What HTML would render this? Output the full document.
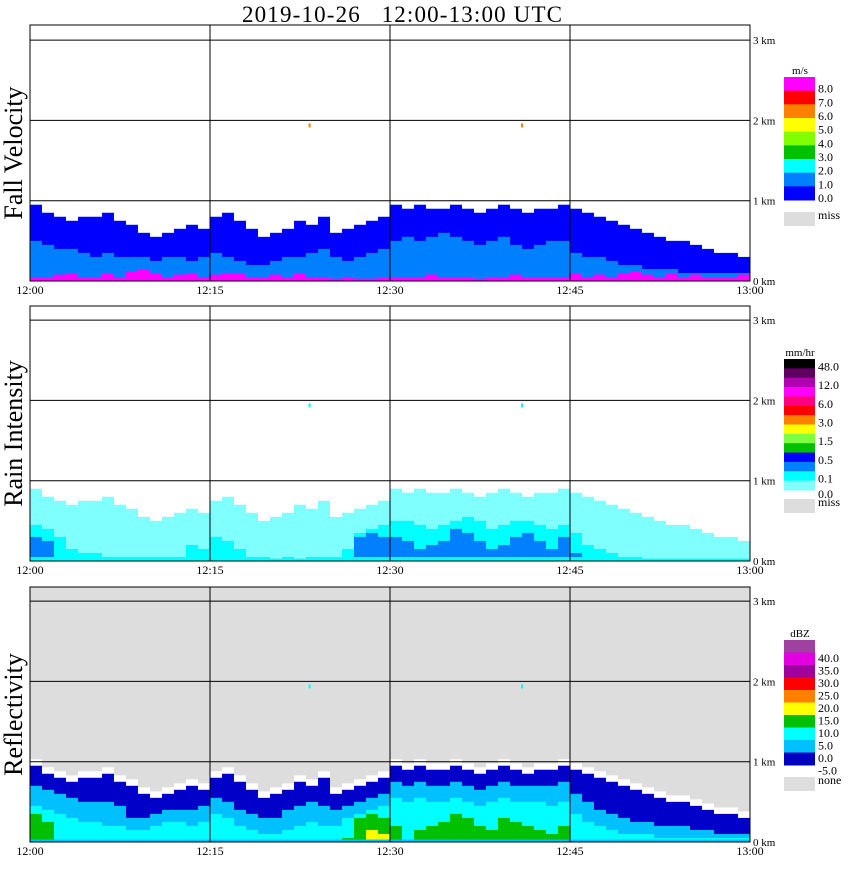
<!DOCTYPE html>
<html><head><meta charset="utf-8"><style>
body{margin:0;background:#fff;width:850px;height:868px;overflow:hidden}
svg text{font-family:"Liberation Serif",serif}
</style></head><body>
<svg id="c" width="850" height="868" xmlns="http://www.w3.org/2000/svg">
<text x="242" y="22" font-size="23" textLength="320" lengthAdjust="spacing" style="white-space:pre">2019-10-26   12:00-13:00 UTC</text>
</svg>
<script>
// minute-by-minute echo top heights (km), 60 minutes
const minutes = Array.from({length:60},(_, i)=>i);
const echoTop = [0.95,0.85,0.8,0.75,0.8,0.8,0.85,0.75,0.7,0.6,0.55,0.6,0.65,0.7,0.65,
 0.8,0.85,0.75,0.65,0.55,0.6,0.65,0.75,0.7,0.8,0.6,0.65,0.7,0.75,0.8,
 0.95,0.9,0.95,0.9,0.9,0.95,0.9,0.85,0.9,0.95,0.9,0.85,0.9,0.9,0.95,
 0.9,0.85,0.8,0.75,0.7,0.65,0.6,0.55,0.5,0.5,0.45,0.4,0.35,0.35,0.3];
const fvMid = [0.5,0.45,0.4,0.4,0.35,0.3,0.35,0.3,0.3,0.3,0.25,0.3,0.3,0.25,0.3,
 0.35,0.3,0.25,0.2,0.2,0.25,0.3,0.3,0.35,0.4,0.3,0.25,0.3,0.35,0.4,
 0.5,0.55,0.5,0.55,0.6,0.55,0.5,0.45,0.5,0.55,0.45,0.4,0.45,0.5,0.5,
 0.35,0.3,0.3,0.25,0.2,0.2,0.15,0.15,0.15,0.1,0.1,0.1,0.1,0.1,0.1];
const fvMag = [0.05,0.05,0.08,0.1,0.05,0.05,0.1,0.05,0.12,0.15,0.1,0.05,0.08,0.1,0.05,
 0.08,0.1,0.1,0.05,0.05,0.08,0.05,0.1,0.05,0.05,0.03,0.05,0.03,0.03,0.05,
 0.05,0.05,0.05,0.08,0.05,0.05,0.05,0.03,0.05,0.05,0.08,0.05,0.05,0.05,0.05,
 0.1,0.05,0.08,0.05,0.1,0.12,0.08,0.05,0.1,0.05,0.08,0.05,0.05,0.05,0.08];
const rainCyan = [0.45,0.4,0.3,0.15,0.1,0.1,0.05,0.05,0.05,0.05,0.05,0.05,0.05,0.2,0.15,
 0.3,0.25,0.15,0.05,0.05,0.03,0.05,0.03,0.05,0.05,0.05,0.15,0.35,0.4,0.45,
 0.5,0.5,0.45,0.4,0.45,0.5,0.55,0.5,0.4,0.45,0.5,0.5,0.45,0.4,0.45,
 0.35,0.2,0.15,0.1,0.05,0.05,0.03,0.03,0.03,0.03,0.03,0.03,0.03,0.03,0.03];
const rainBlue = [0.3,0.25,0,0,0,0,0,0,0,0,0,0,0,0,0,
 0,0,0,0,0,0,0,0,0,0,0,0,0.3,0.35,0.3,
 0.3,0.25,0.15,0.2,0.25,0.4,0.35,0.25,0.15,0.2,0.3,0.35,0.25,0.15,0.3,
 0.1,0,0,0,0,0,0,0,0,0,0,0,0,0,0];
const reflLight = [0.7,0.65,0.6,0.55,0.5,0.5,0.5,0.45,0.3,0.3,0.35,0.4,0.4,0.4,0.45,
 0.55,0.5,0.4,0.35,0.3,0.3,0.4,0.45,0.5,0.45,0.4,0.45,0.5,0.55,0.6,
 0.75,0.7,0.75,0.7,0.7,0.75,0.7,0.65,0.7,0.75,0.7,0.7,0.7,0.7,0.75,
 0.6,0.5,0.4,0.35,0.3,0.25,0.25,0.2,0.2,0.2,0.15,0.15,0.1,0.1,0.1];
const reflCyan = [0.45,0.4,0.35,0.3,0.25,0.25,0.2,0.2,0.15,0.15,0.2,0.25,0.25,0.2,0.25,
 0.35,0.3,0.2,0.15,0.1,0.1,0.15,0.2,0.25,0.2,0.2,0.3,0.35,0.4,0.45,
 0.55,0.5,0.55,0.5,0.5,0.55,0.5,0.45,0.5,0.55,0.5,0.5,0.5,0.45,0.5,
 0.35,0.25,0.2,0.15,0.1,0.1,0.1,0.05,0.05,0.05,0.05,0.05,0.05,0.05,0.05];
const reflGreen = [0.35,0.25,0,0,0,0,0,0,0,0,0,0,0,0,0,
 0,0,0,0,0,0,0,0,0,0,0,0.05,0.3,0.35,0.3,
 0.2,0,0.15,0.2,0.25,0.35,0.3,0.2,0.15,0.3,0.25,0.2,0.15,0.1,0.2,
 0,0,0,0,0,0,0,0,0,0,0,0,0,0,0];
const reflYellow = [0,0,0,0,0,0,0,0,0,0,0,0,0,0,0,0,0,0,0,0,0,0,0,0,0,0,0,0,0.15,0.1,
 0,0,0,0,0,0,0,0,0,0,0,0,0,0,0,0,0,0,0,0,0,0,0,0,0,0,0,0,0,0];
const timeLabels = ["12:00","12:15","12:30","12:45","13:00"];
const kmTicks = [0,1,2,3];

const S = document.getElementById('c');
const NS = 'http://www.w3.org/2000/svg';
function mk(tag, attrs, parent){const e=document.createElementNS(NS,tag);for(const k in attrs)e.setAttribute(k,attrs[k]);(parent||S).appendChild(e);return e;}
const X0=30, X1=750;
const xScale = m => X0 + m*(X1-X0)/60;
const panels = [
 {name:'fall-velocity',label:'Fall Velocity',top:25,base:281,bg:'#fff'},
 {name:'rain-intensity',label:'Rain Intensity',top:306,base:561,bg:'#fff'},
 {name:'reflectivity',label:'Reflectivity',top:587,base:842,bg:'#ddd'}];
const KM=80.3;
function band(p, m, h0, h1, color, nm){
  if(h1<=h0) return;
  const y1 = p.base - h1*KM, y0 = p.base - h0*KM;
  const r = mk('rect',{x:xScale(m),y:y1,width:xScale(m+1)-xScale(m),height:y0-y1,fill:color});
  
  
}
panels.forEach((p,pi)=>{
  const g = mk('rect',{x:X0,y:p.top,width:X1-X0,height:p.base-p.top,fill:p.bg});
  
  
  minutes.forEach(m=>{
    const t = echoTop[m];
    if(pi===0){
      band(p,m,0,t,'#0000ff','fv-cell');
      band(p,m,0,fvMid[m],'#0080ff','fv-cell');
      band(p,m,0,fvMag[m],'#ff00ff','fv-cell');
    } else if(pi===1){
      band(p,m,0,t-0.05,'#80ffff','rain-cell');
      band(p,m,0,rainCyan[m],'#00ffff','rain-cell');
      band(p,m,0.05,rainBlue[m],'#0080ff','rain-cell');
    } else {
      band(p,m,0,t+0.08,'#ffffff','refl-cell');
      band(p,m,0,t,'#0000c8','refl-cell');
      band(p,m,0,reflLight[m],'#00c0ff','refl-cell');
      band(p,m,0.03,reflCyan[m],'#00ffff','refl-cell');
      band(p,m,0.03,reflGreen[m],'#00c000','refl-cell');
      band(p,m,0.03,reflYellow[m],'#ffff00','refl-cell');
    }
  });
  [23.3,41.0].forEach(m=>{
    const r=mk('rect',{x:xScale(m)-1,y:p.base-2.0*KM+3,width:2,height:4,fill:pi===0?'#ff8000':'#00ffff'});
    
    
  });
  kmTicks.forEach(k=>{
    const y=p.base-k*KM;
    if(k>0){const l=mk('line',{x1:X0,x2:X1,y1:y,y2:y,stroke:'#000','stroke-width':1});
      }
    const tx=mk('text',{x:753,y:y+4,'font-size':11});tx.textContent=k+' km';
    
  });
  [15,30,45].forEach(m=>{const l=mk('line',{x1:xScale(m),x2:xScale(m),y1:p.top,y2:p.base,stroke:'#000'});
    });
  const fr=mk('rect',{x:X0,y:p.top,width:X1-X0,height:p.base-p.top,fill:'none',stroke:'#000'});
  
  timeLabels.forEach((s,i)=>{const tx=mk('text',{x:xScale(i*15),y:p.base+13,'font-size':12,'text-anchor':'middle'});tx.textContent=s;
    });
  const lab=mk('text',{x:0,y:0,'font-size':26,'text-anchor':'middle',transform:`translate(22,${(p.top+p.base)/2}) rotate(-90)`});
  lab.textContent=p.label;
});
const legends = [
 {unit:'m/s',top:77,bottom:200,colors:['#ff00ff','#ff0000','#ff8000','#ffff00','#80ff00','#00c000','#00ffff','#0080ff','#0000ff'],
  labels:['8.0','7.0','6.0','5.0','4.0','3.0','2.0','1.0','0.0'],lblIdx:[1,2,3,4,5,6,7,8,9],miss:'miss',missY:212},
 {unit:'mm/hr',top:359,bottom:490,colors:['#000000','#600060','#b000b0','#ff00ff','#ff0080','#ff0000','#ff8000','#ffff00','#80ff40','#00c000','#0000ff','#0080ff','#00ffff','#80ffff'],
  labels:['48.0','12.0','6.0','3.0','1.5','0.5','0.1','0.0'],lblIdx:[1,3,5,7,9,11,13,14],miss:'miss',missY:499},
 {unit:'dBZ',top:640,bottom:765,colors:['#a040a0','#e000e0','#a000a0','#ff0000','#ff8000','#ffff00','#00c000','#00ffff','#00c0ff','#0000c0'],
  labels:['40.0','35.0','30.0','25.0','20.0','15.0','10.0','5.0','0.0','-5.0'],lblIdx:[2,3,4,5,6,7,8,9,10,11],miss:'none',missY:777}];
legends.forEach((L,li)=>{
  const h=(L.bottom-L.top)/L.colors.length;
  const u=mk('text',{x:800,y:L.top-3,'font-size':11,'text-anchor':'middle'});u.textContent=L.unit;
  
  L.colors.forEach((c,i)=>{const r=mk('rect',{x:784,y:L.top+i*h,width:31,height:h+0.5,fill:c});
    });
  L.labels.forEach((s,i)=>{const idx=L.lblIdx[i]; let y=L.top+idx*h+(li===2?-3:2);
    if(li===1&&i===7)y=L.bottom+8;
    const t=mk('text',{x:818,y:y,'font-size':12});t.textContent=s;
    });
  const r=mk('rect',{x:784,y:L.missY,width:31,height:14,fill:'#ddd'});
  
  const t=mk('text',{x:818,y:L.missY+7,'font-size':12});t.textContent=L.miss;
  
});
</script>
</body></html>
